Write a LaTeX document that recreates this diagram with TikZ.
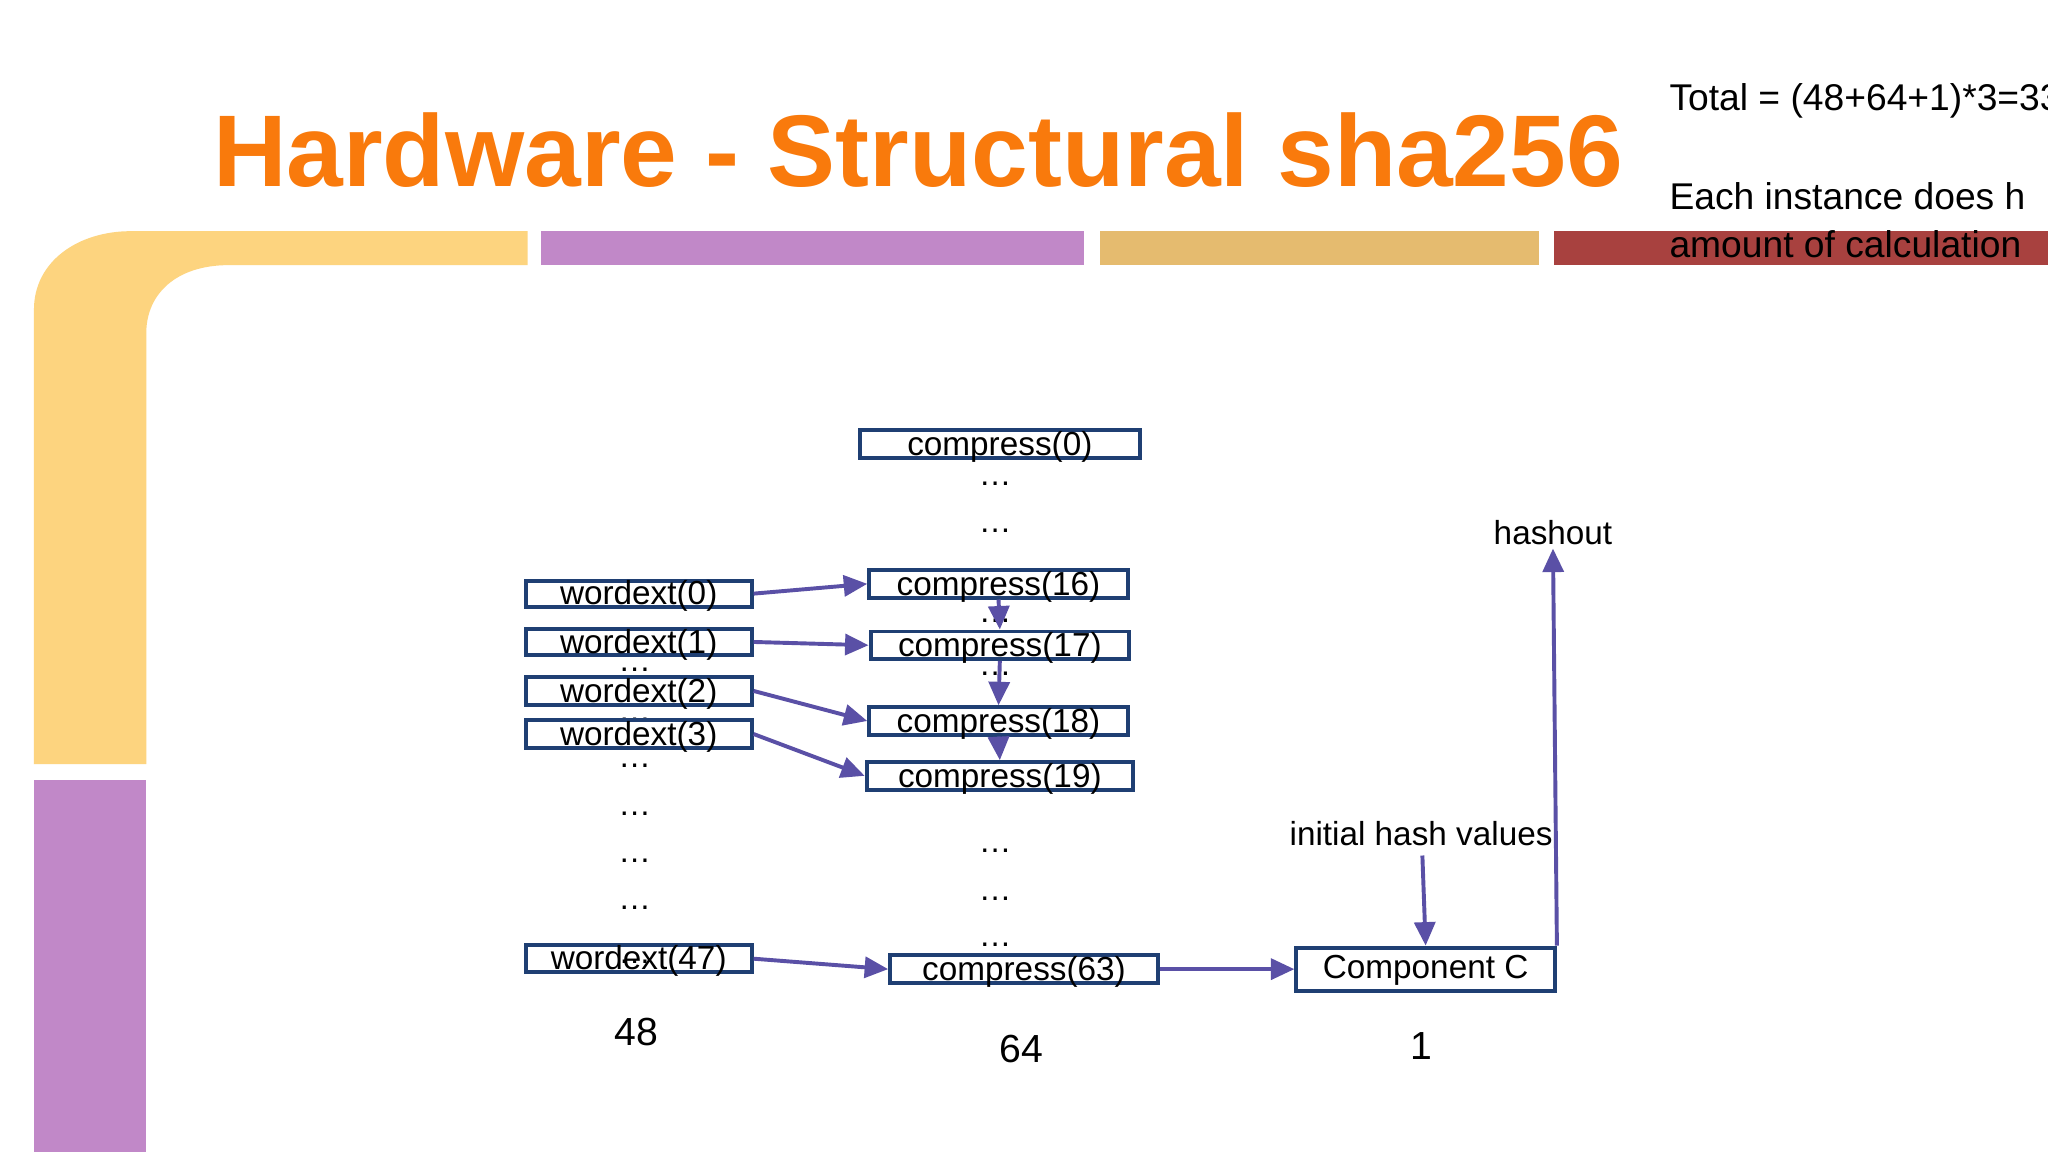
\documentclass[tikz,border=0pt]{standalone}
\usepackage{fontspec}
\setmainfont{Liberation Sans}
\usetikzlibrary{arrows.meta,calc}
\definecolor{ttl}{HTML}{F97A0C}
\definecolor{ylw}{HTML}{FDD47F}
\definecolor{prp}{HTML}{C188C8}
\definecolor{tan}{HTML}{E5BB6F}
\definecolor{dred}{HTML}{A8413F}
\definecolor{bx}{HTML}{1F3F73}
\definecolor{arr}{HTML}{5A50A6}
\tikzset{
 blk/.style={draw=bx,line width=3pt,inner sep=0pt,anchor=north west},
 lbl/.style={font=\fontsize{25.5}{27}\selectfont,inner sep=0pt},
 dts/.style={font=\fontsize{25}{26}\selectfont,inner sep=0pt},
 con/.style={draw=arr,line width=3pt,-{Triangle[length=18pt,width=16pt]}},
}
\newcommand{\bxn}[6]{\node[blk,minimum width=#4-#2,minimum height=#5-#3] (#1) at (#2,#3) {};
 \node[lbl] at ($(#1.center)+(0,2)$) {#6};}
\begin{document}
\begin{tikzpicture}[x=1pt,y=-1pt]
\useasboundingbox (0,0) rectangle (1568,882);
\fill[white] (0,0) rectangle (1568,882);
\begin{scope}
\clip (0,0) rectangle (1568,882);
\fill[ylw] (26,585) -- (26,237) .. controls (26,200) and (60,177) .. (100,177) -- (404,177) -- (404,203) -- (175,203) .. controls (135,203) and (112,225) .. (112,255) -- (112,585) -- cycle;
\fill[prp] (414,177) rectangle (830,203);
\fill[tan] (842,177) rectangle (1178,203);
\fill[dred] (1190,177) rectangle (1570,203);
\fill[prp] (26,597) rectangle (112,884);
\node[anchor=west,inner sep=0pt,font=\bfseries\fontsize{78}{88}\selectfont,text=ttl] (title) at (163,115) {Hardware - Structural sha256};
\node[anchor=west,inner sep=0pt,font=\fontsize{28.5}{30}\selectfont] (t1) at (1278,77) {Total = (48+64+1)*3=339};
\node[anchor=west,inner sep=0pt,font=\fontsize{28.5}{30}\selectfont] (t2) at (1278,150) {Each instance does h};
\node[anchor=west,inner sep=0pt,font=\fontsize{28.5}{30}\selectfont] (t3) at (1278,187) {amount of calculation};
\end{scope}
\foreach \y in {370,406,475,516,651,688,723} \node[dts] at (762,\y) {\dots};
\foreach \y in {513,551,586,623,659,695,736} \node[dts] at (486,\y) {\dots};
\bxn{c0}{657}{328}{871}{349}{compress(0)}
\bxn{c16}{664}{435}{862}{456}{compress(16)}
\bxn{c17}{665}{482}{863}{503}{compress(17)}
\bxn{c18}{664}{540}{862}{561}{compress(18)}
\bxn{c19}{662}{582}{866}{603}{compress(19)}
\bxn{c63}{680}{730}{885}{751}{compress(63)}
\bxn{w0}{401}{443}{574}{463}{wordext(0)}
\bxn{w1}{401}{480}{574}{500}{wordext(1)}
\bxn{w2}{401}{517}{574}{538}{wordext(2)}
\bxn{w3}{401}{550}{574}{571}{wordext(3)}
\bxn{w47}{401}{722}{574}{743}{wordext(47)}
\node[blk,minimum width=198,minimum height=33] (cc) at (991,724) {};
\node[lbl] at ($(cc.center)+(0,1)$) {Component C};
\draw[con] (w0.east) -- (c16.west);
\draw[con] (w1.east) -- (c17.west);
\draw[con] (w2.east) -- (c18.west);
\draw[con] (w3.east) -- (c19.west);
\draw[con] (w47.east) -- (c63.west);
\draw[con] (c16.south) -- (c17.north);
\draw[con] (c17.south) -- (c18.north);
\draw[con] (c18.south) -- (c19.north);
\draw[con] (c63.east) -- (cc.west);
\node[lbl] (ihv) at (1088,638) {initial hash values};
\draw[con] (1089,655) -- (cc.north);
\node[lbl] (ho) at (1189,408) {hashout};
\draw[con] (cc.north east) -- (1189,420);
\node[lbl,font=\fontsize{30}{32}\selectfont] at (487,790) {48};
\node[lbl,font=\fontsize{30}{32}\selectfont] at (782,803) {64};
\node[lbl,font=\fontsize{30}{32}\selectfont] at (1088,801) {1};
\end{tikzpicture}
\end{document}
